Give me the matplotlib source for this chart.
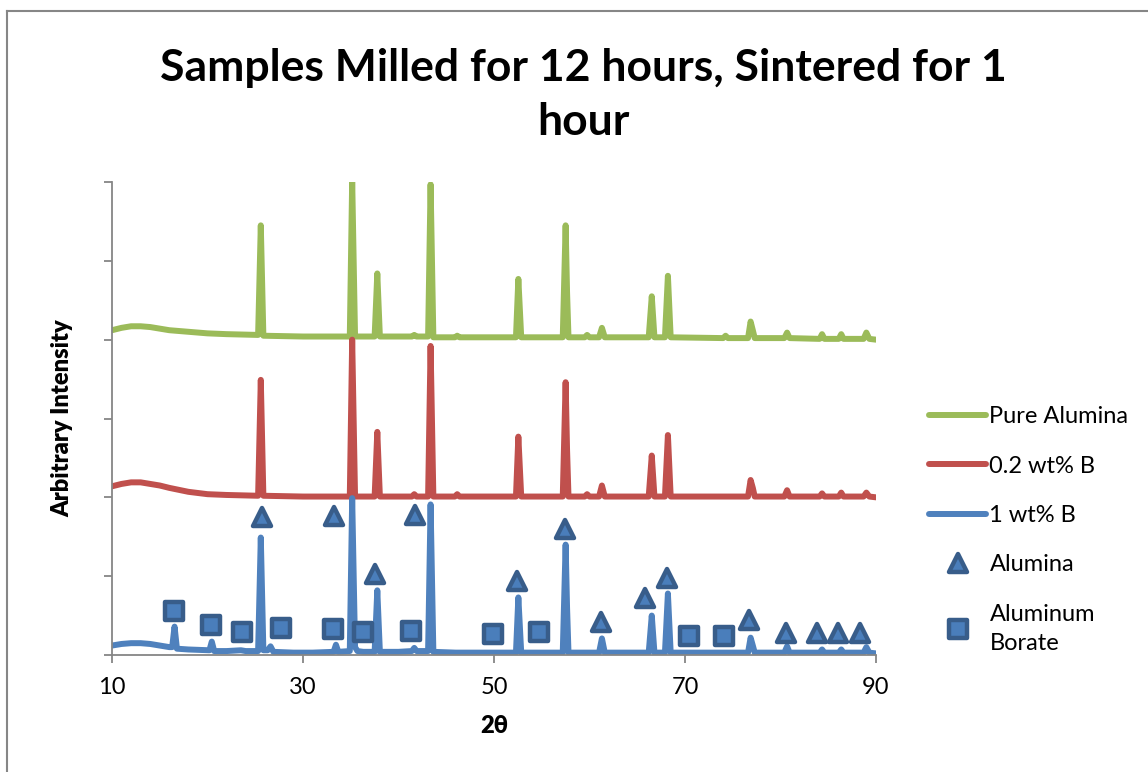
import matplotlib
matplotlib.use('Agg')
import matplotlib.pyplot as plt
from matplotlib.lines import Line2D
from matplotlib.markers import MarkerStyle

# 2theta / intensity vertices (traces offset by 0, 2, 4)
one_wt_x = [10, 11, 12, 13, 14, 15, 16, 16.3, 16.55, 16.8, 18, 20.2, 20.45, 20.7, 22, 23.5, 24,
            25.3, 25.58, 25.85, 26.3, 26.6, 26.9, 29, 31, 33.2, 33.45, 33.7, 34.9, 35.15,
            35.45, 35.7, 36.3, 37.5, 37.78, 38.05, 40, 41.4, 41.65, 41.9, 43.1, 43.36, 43.65,
            46, 50, 52.3, 52.55, 52.85, 55, 57.2, 57.5, 57.65, 57.8, 61.0, 61.3, 61.6, 66.2,
            66.52, 66.8, 67.9, 68.21, 68.5, 76.6, 76.87, 77.1, 77.3, 80.4, 80.69, 80.95, 84.1,
            84.35, 84.6, 86.1, 86.36, 86.6, 88.7, 88.99, 89.3, 90]
one_wt_y = [0.12, 0.14, 0.15, 0.15, 0.14, 0.12, 0.10, 0.10, 0.36, 0.08, 0.07, 0.06, 0.17, 0.05, 0.05, 0.06, 0.05,
            0.05, 1.49, 0.06, 0.06, 0.11, 0.04, 0.03, 0.03, 0.04, 0.13, 0.04, 0.05, 1.99,
            0.10, 0.05, 0.04, 0.04, 0.82, 0.04, 0.04, 0.05, 0.09, 0.05, 0.05, 1.91, 0.04,
            0.03, 0.03, 0.03, 0.73, 0.03, 0.03, 0.03, 1.40, 0.60, 0.03, 0.03, 0.21, 0.03, 0.03,
            0.50, 0.03, 0.03, 0.78, 0.03, 0.03, 0.22, 0.12, 0.03, 0.03, 0.11, 0.03, 0.03,
            0.07, 0.03, 0.03, 0.07, 0.03, 0.03, 0.10, 0.03, 0.02]

low_b_x = [10, 11, 12, 13, 14, 15, 16, 18, 20, 22, 25.3, 25.58, 25.85, 30, 34.9, 35.15, 35.45, 37.5,
           37.78, 38.05, 41.4, 41.65, 41.9, 43.1, 43.36, 43.65, 45.9, 46.15, 46.4, 52.3, 52.55,
           52.85, 57.2, 57.5, 57.65, 57.8, 59.5, 59.75, 60.0, 61.0, 61.3, 61.6, 66.2, 66.52, 66.8,
           67.9, 68.21, 68.5, 76.6, 76.87, 77.1, 77.3, 80.4, 80.69, 80.95, 84.1, 84.35, 84.6,
           86.1, 86.36, 86.6, 88.7, 88.99, 89.3, 90]
low_b_y = [2.14, 2.17, 2.19, 2.19, 2.17, 2.15, 2.12, 2.07, 2.04, 2.03, 2.02, 3.49, 2.02, 2.01, 2.01, 4.00, 2.01, 2.01,
           2.83, 2.01, 2.01, 2.04, 2.01, 2.01, 3.92, 2.01, 2.01, 2.04, 2.01, 2.01, 2.77,
           2.01, 2.01, 3.46, 2.60, 2.01, 2.01, 2.04, 2.01, 2.01, 2.15, 2.01, 2.01, 2.53, 2.01,
           2.01, 2.79, 2.01, 2.01, 2.22, 2.12, 2.01, 2.01, 2.09, 2.01, 2.01, 2.05, 2.01,
           2.01, 2.06, 2.01, 2.01, 2.06, 2.01, 2.00]

pure_x = [10, 11, 12, 13, 14, 15, 16, 18, 20, 22, 25.3, 25.58, 25.85, 30, 34.9, 35.15, 35.45, 37.5,
          37.78, 38.05, 41.4, 41.65, 41.9, 43.1, 43.36, 43.65, 45.9, 46.15, 46.4, 52.3, 52.55,
          52.85, 57.2, 57.5, 57.65, 57.8, 59.5, 59.75, 60.0, 61.0, 61.3, 61.6, 66.2, 66.52, 66.8,
          67.9, 68.21, 68.5, 74.0, 74.25, 74.5, 76.6, 76.87, 77.1, 77.3, 80.4, 80.69, 80.95,
          84.1, 84.35, 84.6, 86.1, 86.36, 86.6, 88.7, 88.99, 89.3, 90]
pure_y = [4.12, 4.15, 4.17, 4.17, 4.16, 4.14, 4.12, 4.10, 4.08, 4.07, 4.06, 5.45, 4.05, 4.04, 4.04, 6.02, 4.04, 4.04,
          4.84, 4.04, 4.04, 4.06, 4.04, 4.04, 5.97, 4.03, 4.03, 4.05, 4.03, 4.03, 4.77,
          4.03, 4.03, 5.45, 4.60, 4.03, 4.03, 4.06, 4.03, 4.03, 4.15, 4.03, 4.03, 4.55, 4.03,
          4.03, 4.81, 4.03, 4.02, 4.05, 4.02, 4.02, 4.23, 4.12, 4.02, 4.02, 4.09, 4.02,
          4.01, 4.07, 4.01, 4.01, 4.07, 4.01, 4.01, 4.09, 4.01, 4.00]

# phase markers
alumina_x = [25.7, 33.2, 41.7, 37.5, 52.4, 57.4, 61.2, 65.8, 68.1, 76.7, 80.6, 83.8, 86.0, 88.3]
alumina_y = [1.75, 1.76, 1.78, 1.03, 0.94, 1.60, 0.42, 0.72, 0.98, 0.44, 0.28, 0.28, 0.28, 0.28]
borate_x = [16.5, 20.4, 23.6, 27.7, 33.1, 36.3, 41.3, 49.9, 54.7, 70.4, 74.1]
borate_y = [0.56, 0.38, 0.29, 0.34, 0.33, 0.29, 0.30, 0.27, 0.29, 0.24, 0.24]

x_ticks = [10, 30, 50, 70, 90]

plt.rcParams['font.family'] = ['Lato', 'DejaVu Sans']

fig = plt.figure(figsize=(11.48, 7.72), dpi=100)
ax = fig.add_axes([112/1148., 1 - 655/772., 764/1148., 473/772.])

green = '#9bbb59'
red = '#c0504d'
blue = '#4f81bd'
dark = '#385d8a'

lw = 4.3
l1, = ax.plot(pure_x, pure_y, color=green, lw=lw, solid_joinstyle='round', solid_capstyle='round',
              label='Pure Alumina')
l2, = ax.plot(low_b_x, low_b_y, color=red, lw=lw, solid_joinstyle='round', solid_capstyle='round',
              label='0.2 wt% B')
l3, = ax.plot(one_wt_x, one_wt_y, color=blue, lw=lw, solid_joinstyle='round', solid_capstyle='round',
              label='1 wt% B')
tri = MarkerStyle('^', joinstyle='round')
sq = MarkerStyle('s', joinstyle='round')
m1, = ax.plot(alumina_x, alumina_y, ls='none', marker=tri, ms=13.5, mfc='#4a7ebb', mec=dark,
              mew=3.2, label='Alumina', zorder=5)
m2, = ax.plot(borate_x, borate_y, ls='none', marker=sq, ms=12.5, mfc='#4a7ebb', mec=dark,
              mew=3.2, label='Aluminum\nBorate', zorder=5)

ax.set_xlim(10, 90)
ax.set_ylim(0, 6)
ax.set_xticks(x_ticks)
ax.set_yticks(range(7))
ax.set_yticklabels([])
ax.tick_params(axis='both', direction='out', length=6, width=1.3, color='#868686',
               labelsize=17, pad=10)
for s in ['top', 'right']:
    ax.spines[s].set_visible(False)
for s in ['left', 'bottom']:
    ax.spines[s].set_color('#868686')
    ax.spines[s].set_linewidth(1.3)

ax.set_xlabel('2θ', fontsize=17, fontweight='heavy', labelpad=12)
ax.set_ylabel('Arbitrary Intensity', fontsize=17, fontweight='heavy', labelpad=12)

fig.text(583/1148., 1 - 68/772., 'Samples Milled for 12 hours, Sintered for 1',
         ha='center', va='center', fontsize=32, fontweight='bold')
fig.text(583/1148., 1 - 122/772., 'hour', ha='center', va='center', fontsize=32, fontweight='bold')

leg = fig.legend(handles=[l1, l2, l3, m1, m2], loc='upper left',
                 bbox_to_anchor=(908/1148., 1 - 385/772.), frameon=False, fontsize=17,
                 handlelength=2.4, handletextpad=0.15, labelspacing=1.2, numpoints=1)
leg.get_texts()[4].set_linespacing(1.5)

# chart border like the spreadsheet frame
fig.add_artist(Line2D([7/1148., 7/1148.], [0, 1 - 11/772.], color='#868686', lw=1.5))
fig.add_artist(Line2D([7/1148., 1], [1 - 11/772., 1 - 11/772.], color='#868686', lw=1.5))

plt.savefig('out.png', dpi=100)
